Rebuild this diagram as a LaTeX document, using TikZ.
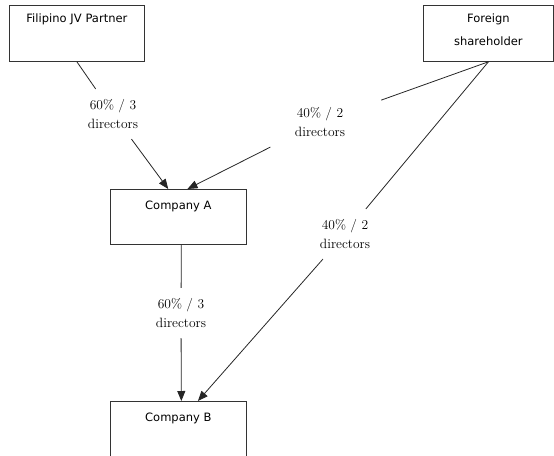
\documentclass[tikz,border=0pt]{standalone}
\usepackage{fontspec}
\newfontfamily\boxfont{DejaVu Sans}
\usetikzlibrary{arrows.meta}

\tikzset{
  entity/.style={draw=black!80, line width=0.8pt, anchor=north west,
    inner xsep=0pt, inner ysep=0pt, align=center,
    text height=17pt, text depth=39pt,
    font=\boxfont\fontsize{11.5}{23}\selectfont},
  company/.style={entity, text width=136pt, text height=20pt, text depth=35pt},
  share/.style={align=center, inner xsep=8pt, inner ysep=10pt,
    font=\fontsize{13.5}{19.5}\selectfont},
  link/.style={draw=black!85, line width=0.8pt},
  owns/.style={link, -{Triangle[length=10pt,width=8pt]}}
}

\begin{document}
\begin{tikzpicture}[x=1pt,y=-1pt]
\useasboundingbox (0,0) rectangle (554,455);
% owners
\node[entity, text width=135pt] (fjv) at (9,5) {Filipino JV Partner};
\node[entity, text width=130pt] (fsh) at (423,5) {Foreign\\shareholder};
% companies
\node[company] (coA) at (110,189) {Company A};
\node[company] (coB) at (110,401) {Company B};
% shares
\node[share] (s1) at (113,114) {60\% / 3\\directors};
\node[share, inner xsep=36pt] (s2) at (320,122) {40\% / 2\\directors};
\node[share] (s3) at (345,234) {40\% / 2\\directors};
\node[share] (s4) at (181,313) {60\% / 3\\directors};
\draw[link] (fjv.south) -- (s1);
\draw[owns] (s1) -- (coA.110);
\draw[link] (fsh.south) -- (s2);
\draw[owns] (s2) -- (coA.72);
\draw[link] (fsh.south) -- (s3);
\draw[owns] (s3) -- (coB.55);
\draw[link] (coA.-84) -- (s4);
\draw[owns] (s4) -- (coB.84);
\end{tikzpicture}
\end{document}
